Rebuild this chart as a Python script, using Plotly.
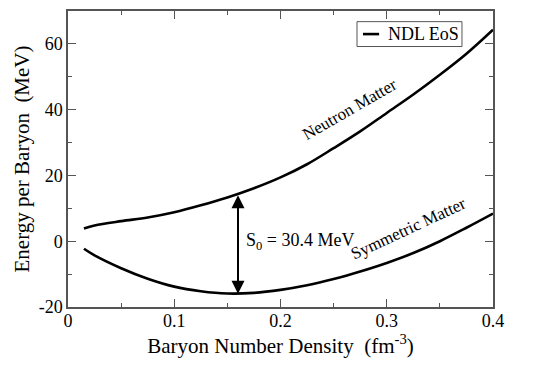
import plotly.graph_objects as go

# Energy per baryon vs. baryon number density (NDL equation of state)
density = [0.015, 0.025, 0.05, 0.075, 0.10, 0.125, 0.15, 0.175, 0.20, 0.225,
           0.25, 0.275, 0.30, 0.325, 0.35, 0.375, 0.40]
neutron_matter = [3.9, 4.8, 6.1, 7.2, 8.8, 10.9, 13.3, 16.1, 19.4, 23.4,
                  28.3, 33.4, 39.0, 44.6, 50.6, 57.0, 64.3]
symmetric_matter = [-2.3, -4.3, -8.2, -11.4, -13.8, -15.2, -15.9, -15.7, -14.8, -13.4,
                    -11.5, -9.2, -6.6, -3.6, 0.0, 4.1, 8.4]

# Axis tick labels
x_tick_vals = [0, 0.1, 0.2, 0.3, 0.4]
x_tick_text = ["0", "0.1", "0.2", "0.3", "0.4"]
y_tick_vals = [-20, 0, 20, 40, 60]
y_tick_text = ["-20", "0", "20", "40", "60"]

# Saturation point and symmetry energy
n0 = 0.16
e_neutron_n0 = 14.4
e_symmetric_n0 = -16.0
s0_label = "S<sub>0</sub> = 30.4 MeV"
legend_label = "NDL EoS"

FONT = "Liberation Serif"
AXIS_COLOR = "#555555"

fig = go.Figure()
fig.add_trace(go.Scatter(
    x=density, y=neutron_matter, mode="lines", name=legend_label, showlegend=False,
    line=dict(color="black", width=2.6, shape="spline", smoothing=1.0),
))
fig.add_trace(go.Scatter(
    x=density, y=symmetric_matter, mode="lines", showlegend=False,
    line=dict(color="black", width=2.6, shape="spline", smoothing=1.0),
))

# double-headed arrow marking the symmetry energy at saturation density
fig.add_annotation(
    x=n0, y=e_symmetric_n0, ax=n0, ay=e_neutron_n0,
    xref="x", yref="y", axref="x", ayref="y",
    showarrow=True, arrowhead=2, startarrowhead=2, arrowside="end+start",
    arrowsize=1.3, startarrowsize=1.3, arrowwidth=2, arrowcolor="black", text="",
)
fig.add_annotation(
    x=0.1655, y=0.0, xref="x", yref="y", text=s0_label, showarrow=False,
    xanchor="left", yanchor="middle", font=dict(family=FONT, size=18, color="black"),
)
fig.add_annotation(
    x=0.265, y=40.0, xref="x", yref="y", text="Neutron Matter", showarrow=False,
    textangle=-30, font=dict(family=FONT, size=17, color="black"),
)
fig.add_annotation(
    x=0.3205, y=4.0, xref="x", yref="y", text="Symmetric Matter", showarrow=False,
    textangle=-25, font=dict(family=FONT, size=17, color="black"),
)

# compact boxed legend in the upper right corner
fig.add_shape(type="rect", xref="paper", yref="paper",
              x0=0.680, x1=0.927, y0=0.880, y1=0.964,
              line=dict(color=AXIS_COLOR, width=1), fillcolor="white", layer="above")
fig.add_shape(type="line", xref="paper", yref="paper",
              x0=0.694, x1=0.732, y0=0.922, y1=0.922,
              line=dict(color="black", width=2.6), layer="above")
fig.add_annotation(
    x=0.748, y=0.922, xref="paper", yref="paper", text=legend_label, showarrow=False,
    xanchor="left", yanchor="middle", font=dict(family=FONT, size=18, color="black"),
)

tick_font = dict(family=FONT, size=18, color="black")
title_font = dict(family=FONT, size=21, color="black")
minor_common = dict(ticks="inside", ticklen=4, tickwidth=1.2, tickcolor=AXIS_COLOR, showgrid=False)

fig.update_xaxes(
    range=[0, 0.4], tickmode="array", tickvals=x_tick_vals, ticktext=x_tick_text,
    showline=True, linecolor=AXIS_COLOR, linewidth=1.5, mirror="ticks",
    ticks="inside", ticklen=8, tickwidth=1.2, tickcolor=AXIS_COLOR,
    showgrid=False, zeroline=False, tickfont=tick_font, ticklabelstandoff=-3,
    minor=dict(tickmode="linear", tick0=0, dtick=0.05, **minor_common),
    title=dict(text="Baryon Number Density  (fm<sup>-3</sup>)", font=title_font, standoff=4),
)
fig.update_yaxes(
    range=[-20, 70], tickmode="array", tickvals=y_tick_vals, ticktext=y_tick_text,
    showline=True, linecolor=AXIS_COLOR, linewidth=1.5, mirror="ticks",
    ticks="inside", ticklen=8, tickwidth=1.2, tickcolor=AXIS_COLOR,
    showgrid=False, zeroline=False, tickfont=tick_font,
    minor=dict(tickmode="linear", tick0=-20, dtick=10, **minor_common),
    title=dict(text="Energy per Baryon  (MeV)", font=title_font, standoff=3),
)

fig.update_layout(
    width=549, height=367,
    margin=dict(l=68, r=56, t=9, b=60),
    paper_bgcolor="white", plot_bgcolor="white",
    font=dict(family=FONT, color="black", size=18),
    showlegend=False,
)

fig.write_html("out.html")
